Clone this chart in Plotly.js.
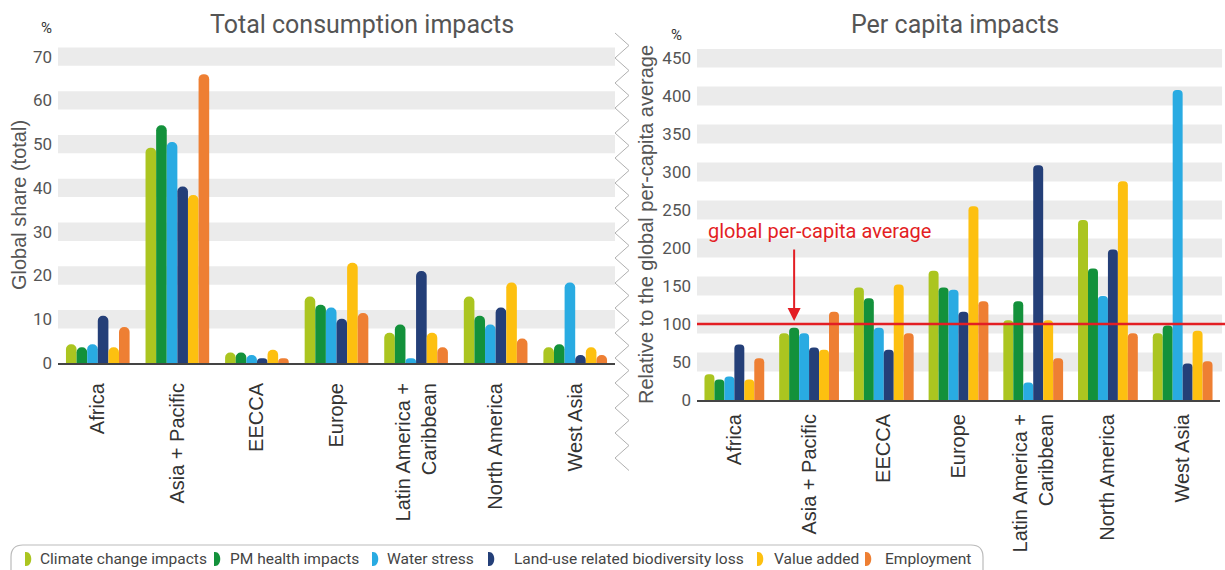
<!DOCTYPE html>
<html><head><meta charset="utf-8">
<script src="https://cdn.plot.ly/plotly-3.0.1.min.js"></script>
<style>html,body{margin:0;padding:0;background:#fff}#chart{width:1225px;height:570px}</style>
</head><body><div id="chart"></div>
<script>
// ---------- data ----------
const regions = ['Africa', 'Asia + Pacific', 'EECCA', 'Europe', 'Latin America +<br>Caribbean', 'North America', 'West Asia'];
const seriesNames = ['Climate change impacts', 'PM health impacts', 'Water stress', 'Land-use related biodiversity loss', 'Value added', 'Employment'];

// Total consumption impacts (global share, %)
const climateTotal = [4.3, 49.2, 2.4, 15.2, 6.9, 15.2, 3.6];
const pmTotal      = [3.6, 54.3, 2.4, 13.3, 8.8, 10.8, 4.3];
const waterTotal   = [4.3, 50.5, 1.8, 12.7, 1.1, 8.8, 18.4];
const landTotal    = [10.8, 40.3, 1.1, 10.1, 21.0, 12.7, 1.8];
const valueTotal   = [3.6, 38.4, 3.0, 22.9, 6.9, 18.4, 3.6];
const employTotal  = [8.2, 66.0, 1.1, 11.4, 3.6, 5.6, 1.8];

// Per capita impacts (% of global per-capita average)
const climatePc = [34, 88, 148, 170, 105, 237, 88];
const pmPc      = [27, 95, 134, 148, 130, 173, 98];
const waterPc   = [31, 88, 95, 145, 23, 137, 408];
const landPc    = [73, 69, 66, 116, 309, 198, 48];
const valuePc   = [27, 66, 152, 255, 105, 288, 91];
const employPc  = [55, 116, 88, 130, 55, 88, 51];

const totalTicks = [0, 10, 20, 30, 40, 50, 60, 70];
const pcTicks = [0, 50, 100, 150, 200, 250, 300, 350, 400, 450];
const globalAverage = 100;

// ---------- styling ----------
const colors = ['#abc520', '#13913b', '#29abe2', '#243f78', '#fdc010', '#ee7f33'];
const totals = [climateTotal, pmTotal, waterTotal, landTotal, valueTotal, employTotal];
const perCapita = [climatePc, pmPc, waterPc, landPc, valuePc, employPc];

// pixel -> paper helpers (plot paper spans x 58..1220, y 47..400)
const L = 58, R = 1220, T = 47, B = 400;
const px = x => (x - L) / (R - L);
const py = y => (B - y) / (B - T);

const traces = [];
seriesNames.forEach((name, i) => {
  traces.push({type: 'bar', name: name, x: regions, y: totals[i], xaxis: 'x', yaxis: 'y',
    marker: {color: colors[i], cornerradius: '50%'}, showlegend: false, legendgroup: name});
  traces.push({type: 'bar', name: name, x: regions, y: perCapita[i], xaxis: 'x2', yaxis: 'y2',
    marker: {color: colors[i], cornerradius: '50%'}, showlegend: false, legendgroup: name});
});

const shapes = [];
// grey bands behind each tick
totalTicks.filter(v => v > 0).forEach(v => shapes.push({type: 'rect', xref: 'x domain', yref: 'y',
  x0: 0, x1: 1, y0: v - 2.1, y1: v + 2.1, fillcolor: '#ebebeb', line: {width: 0}, layer: 'below'}));
pcTicks.filter(v => v > 0).forEach(v => shapes.push({type: 'rect', xref: 'x2 domain', yref: 'y2',
  x0: 0, x1: 1.004, y0: v - 12.5, y1: v + 12.5, fillcolor: '#ebebeb', line: {width: 0}, layer: 'below'}));
// global average line
shapes.push({type: 'line', xref: 'x2 domain', yref: 'y2', x0: 0, x1: 1.011, y0: globalAverage, y1: globalAverage,
  line: {color: '#e31e24', width: 2.5}});
// zigzag divider
let zz = '';
for (let k = 0, y = 33; y <= 477; k++, y += 12.5) {
  const x = (k % 2 === 0) ? 615 : 629;
  zz += (k === 0 ? 'M ' : ' L ') + px(x).toFixed(5) + ',' + py(y).toFixed(5);
}
shapes.push({type: 'path', xref: 'paper', yref: 'paper', path: zz, line: {color: '#b0b0b0', width: 1}});

// legend (custom, rounded box with half-pill markers)
const legMarkerX = [25, 214, 372, 488, 757, 865];
const legTextX = [38, 228, 385, 512, 772, 883];
const box = `M ${px(11)},${py(590)} L ${px(11)},${py(557)} Q ${px(11)},${py(545)} ${px(23)},${py(545)} L ${px(971)},${py(545)} Q ${px(983)},${py(545)} ${px(983)},${py(557)} L ${px(983)},${py(590)}`;
shapes.push({type: 'path', xref: 'paper', yref: 'paper', path: box, line: {color: '#bbbbbb', width: 1.2}});
const annotations = [];
seriesNames.forEach((name, i) => {
  const x = legMarkerX[i];
  const p = `M ${px(x)},${py(552)} L ${px(x + 1)},${py(552)} C ${px(x + 8)},${py(552)} ${px(x + 8)},${py(566)} ${px(x + 1)},${py(566)} L ${px(x)},${py(566)} Z`;
  shapes.push({type: 'path', xref: 'paper', yref: 'paper', path: p, fillcolor: colors[i], line: {width: 0}});
  annotations.push({xref: 'paper', yref: 'paper', x: px(legTextX[i]), y: py(559), xanchor: 'left', yanchor: 'middle',
    text: name, showarrow: false, font: {family: 'Roboto', size: 15.5, color: '#444'}});
});

// titles and unit labels
annotations.push({xref: 'paper', yref: 'paper', x: px(362), y: py(24), xanchor: 'center', yanchor: 'middle',
  text: 'Total consumption impacts', showarrow: false, font: {family: 'Roboto', size: 25, color: '#555'}});
annotations.push({xref: 'paper', yref: 'paper', x: px(955), y: py(24), xanchor: 'center', yanchor: 'middle',
  text: 'Per capita impacts', showarrow: false, font: {family: 'Roboto', size: 25, color: '#555'}});
annotations.push({xref: 'paper', yref: 'paper', x: px(46), y: py(28), xanchor: 'center', yanchor: 'middle',
  text: '%', showarrow: false, font: {family: 'Roboto', size: 15, color: '#333'}});
annotations.push({xref: 'paper', yref: 'paper', x: px(676), y: py(35), xanchor: 'center', yanchor: 'middle',
  text: '%', showarrow: false, font: {family: 'Roboto', size: 15, color: '#333'}});
// global average label + arrow
annotations.push({xref: 'x2', yref: 'y2', x: -0.375, y: 222, xanchor: 'left', yanchor: 'middle',
  text: 'global per-capita average', showarrow: false, font: {family: 'Roboto', size: 20, color: '#e31e24'}});
annotations.push({xref: 'x2', yref: 'y2', x: 0.8, y: globalAverage, ax: 0, ay: -76, text: '', showarrow: true,
  arrowhead: 2, arrowsize: 1.3, arrowwidth: 2, arrowcolor: '#e31e24', standoff: 3});

const tickFont = {family: 'Roboto', size: 17, color: '#555'};
const catFont = {family: 'Liberation Sans, Arial', size: 20, color: '#333'};
const axTitleFont = {family: 'Liberation Sans, Arial', size: 20, color: '#555'};

const layout = {
  width: 1225, height: 570,
  margin: {l: L, r: 1225 - R, t: T, b: 570 - B, pad: 0},
  paper_bgcolor: '#fff', plot_bgcolor: 'rgba(0,0,0,0)',
  barmode: 'group', bargap: 0.2, bargroupgap: 0,
  showlegend: false,
  xaxis: {domain: [0, px(615)], anchor: 'y', type: 'category', showline: true, linecolor: '#444', linewidth: 2,
    tickangle: -90, tickfont: catFont, ticks: '', ticklabelstandoff: 10, showgrid: false, zeroline: false, fixedrange: true},
  yaxis: {domain: [py(363), 1], anchor: 'x', range: [0, 72.2], tickmode: 'array', tickvals: totalTicks,
    ticks: '', ticklabelstandoff: 5, showgrid: false, zeroline: false, showline: false, tickfont: tickFont, fixedrange: true,
    title: {text: 'Global share (total)', font: axTitleFont, standoff: 0}},
  xaxis2: {domain: [px(697), 1], anchor: 'y2', type: 'category', showline: true, linecolor: '#444', linewidth: 2,
    tickangle: -90, tickfont: catFont, ticks: '', ticklabelstandoff: 4, showgrid: false, zeroline: false, fixedrange: true},
  yaxis2: {domain: [0, py(49)], anchor: 'x2', range: [0, 462], tickmode: 'array', tickvals: pcTicks,
    ticks: '', ticklabelstandoff: 5, showgrid: false, zeroline: false, showline: false, tickfont: tickFont, fixedrange: true,
    title: {text: 'Relative to the global per-capita average', font: axTitleFont, standoff: 3}},
  shapes: shapes,
  annotations: annotations
};

Plotly.newPlot('chart', traces, layout, {displayModeBar: false, responsive: false});
</script></body></html>
